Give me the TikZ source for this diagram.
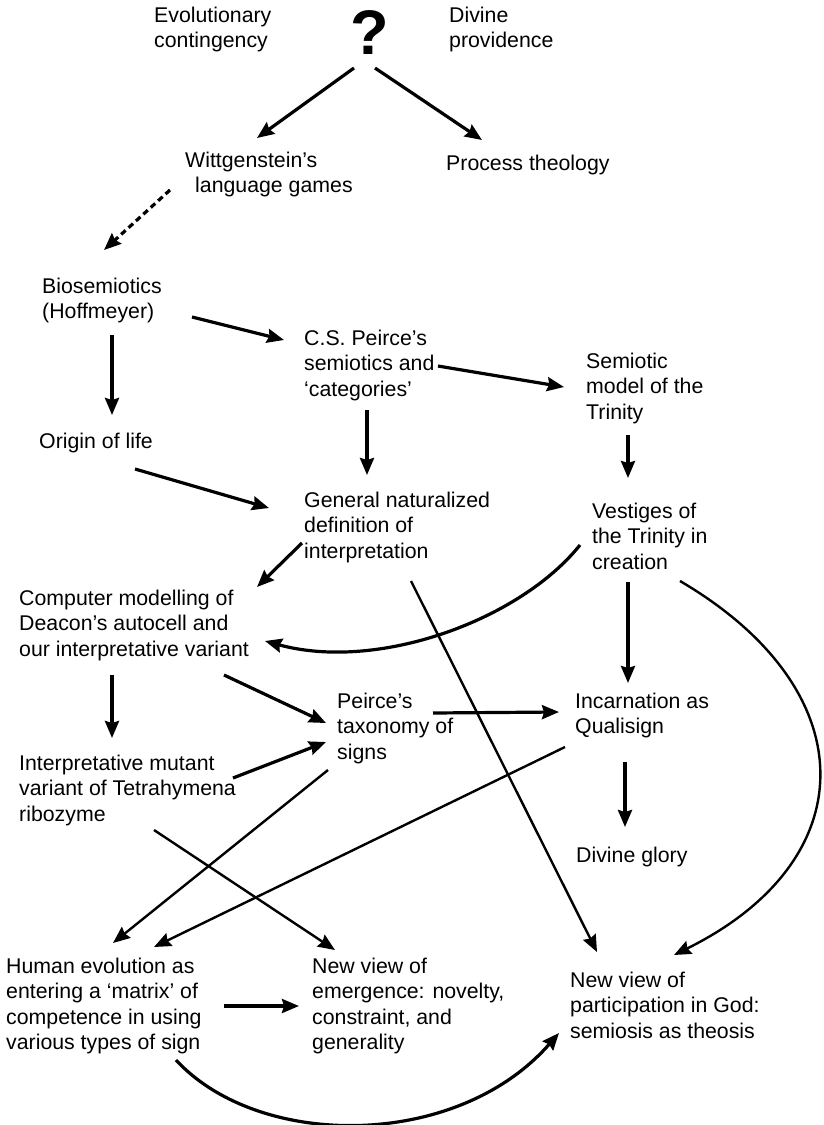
\documentclass[tikz,border=0pt]{standalone}
\usepackage{fontspec}
\setmainfont{Liberation Sans}
\usetikzlibrary{arrows.meta}
\newcommand{\txtlines}[1]{\begin{tabular}[t]{@{}l@{}}#1\end{tabular}}

\begin{document}
\begin{tikzpicture}[x=1pt, y=-1pt,
    lbl/.style={anchor=base west, inner sep=0pt,
      font=\fontsize{21.3}{25.5}\selectfont},
    arr/.style={line width=3.2pt, -{Stealth[length=17pt, width=14pt, inset=2pt]}},
    longarr/.style={arr, line width=2.4pt}]
  \useasboundingbox (0,0) rectangle (824,1125);

  \node[inner sep=0pt, font=\bfseries\fontsize{63}{63}\selectfont] (q) at (370,33) {?};
  \node[lbl] (evo) at (154,22) {\txtlines{Evolutionary\\contingency}};
  \node[lbl] (div) at (449,22) {\txtlines{Divine\\providence}};

  \node[lbl] (witt) at (185,167) {\txtlines{Wittgenstein’s\\\hspace*{10pt}language games}};
  \node[lbl] (proc) at (446,170) {Process theology};

  \node[lbl] (bio) at (42,293) {\txtlines{Biosemiotics\\(Hoffmeyer)}};
  \node[lbl] (csp) at (304,345) {\txtlines{C.S. Peirce’s\\semiotics and\\‘categories’}};
  \node[lbl] (smt) at (586,368) {\txtlines{Semiotic\\model of the\\Trinity}};
  \node[lbl] (orig) at (39,448) {Origin of life};
  \node[lbl] (gen) at (304,507) {\txtlines{General naturalized\\definition of\\interpretation}};
  \node[lbl] (vest) at (592,518) {\txtlines{Vestiges of\\the Trinity in\\creation}};

  \node[lbl] (comp) at (19,605) {\txtlines{Computer modelling of\\Deacon’s autocell and\\our interpretative variant}};
  \node[lbl] (tax) at (337,708) {\txtlines{Peirce’s\\taxonomy of\\signs}};
  \node[lbl] (inc) at (575,708) {\txtlines{Incarnation as\\Qualisign}};
  \node[lbl] (mut) at (19,770) {\txtlines{Interpretative mutant\\variant of Tetrahymena\\ribozyme}};
  \node[lbl] (glory) at (576,862) {Divine glory};

  \node[lbl] (hum) at (6,973) {\txtlines{Human evolution as\\entering a ‘matrix’ of\\competence in using\\various types of sign}};
  \node[lbl] (emg) at (312,973) {\txtlines{New view of\\emergence: novelty,\\constraint, and\\generality}};
  \node[lbl] (part) at (570,987) {\txtlines{New view of\\participation in God:\\semiosis as theosis}};

  \draw[arr] ([shift={(-16,35)}]q.center) -- ([shift={(72,-29)}]witt.base west);
  \draw[arr] ([shift={(5,35)}]q.center) -- ([shift={(36,-30)}]proc.base west);
  \draw[arr, dash pattern=on 6pt off 4pt] ([shift={(-15,23)}]witt.base west) -- ([shift={(62,-43)}]bio.base west);

  \draw[arr] ([shift={(150,24)}]bio.base west) -- ([shift={(-20,-5)}]csp.base west);
  \draw[arr] ([shift={(70,42)}]bio.base west) -- ([shift={(73,-33)}]orig.base west);
  \draw[arr] ([shift={(134,21)}]csp.base west) -- ([shift={(-22,19)}]smt.base west);
  \draw[arr] ([shift={(63,65)}]csp.base west) -- ([shift={(63,-32)}]gen.base west);
  \draw[arr] ([shift={(42,67)}]smt.base west) -- ([shift={(36,-40)}]vest.base west);
  \draw[arr] ([shift={(96,21)}]orig.base west) -- ([shift={(-35,1)}]gen.base west);
  \draw[arr] ([shift={(-2,36)}]gen.base west) -- ([shift={(238,-18)}]comp.base west);
  \draw[arr] ([shift={(-12,27)}]vest.base west) .. controls +(-60,75) and +(113,31) .. ([shift={(246,36)}]comp.base west);
  \draw[longarr] ([shift={(107,74)}]gen.base west) -- ([shift={(27,-35)}]part.base west);
  \draw[arr] ([shift={(36,64)}]vest.base west) -- ([shift={(53,-25)}]inc.base west);
  \draw[longarr] ([shift={(88,63)}]vest.base west) .. controls +(186,109) and +(192,-95) .. ([shift={(104,-32)}]part.base west);

  \draw[arr] ([shift={(205,70)}]comp.base west) -- ([shift={(-11,15)}]tax.base west);
  \draw[arr] ([shift={(93,70)}]comp.base west) -- ([shift={(93,-32)}]mut.base west);
  \draw[arr] ([shift={(96,5)}]tax.base west) -- ([shift={(-16,4)}]inc.base west);
  \draw[arr] ([shift={(214,8)}]mut.base west) -- ([shift={(-11,34)}]tax.base west);
  \draw[arr] ([shift={(50,54)}]inc.base west) -- ([shift={(49,-35)}]glory.base west);
  \draw[longarr] ([shift={(-9,62)}]tax.base west) -- ([shift={(107,-30)}]hum.base west);
  \draw[longarr] ([shift={(-10,39)}]inc.base west) -- ([shift={(148,-26)}]hum.base west);
  \draw[longarr] ([shift={(135,60)}]mut.base west) -- ([shift={(23,-23)}]emg.base west);

  \draw[arr] ([shift={(218,33)}]hum.base west) -- ([shift={(-13,33)}]emg.base west);
  \draw[arr] ([shift={(170,87)}]hum.base west) .. controls +(83,90) and +(-102,117) .. ([shift={(-11,46)}]part.base west);
\end{tikzpicture}
\end{document}
